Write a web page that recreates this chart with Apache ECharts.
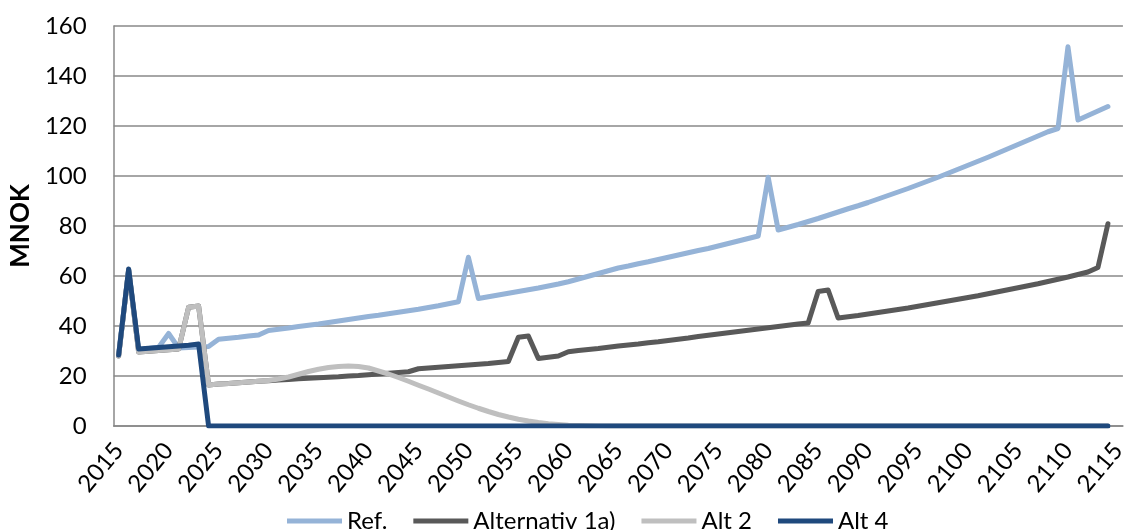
<!DOCTYPE html>
<html>
<head>
<meta charset="utf-8">
<script src="https://cdn.jsdelivr.net/npm/echarts@6/dist/echarts.min.js"></script>
<style>
html,body{margin:0;padding:0;background:#fff;}
#chart{width:1129px;height:530px;}
</style>
</head>
<body>
<div id="chart"></div>
<script>
// Categories: years 2015..2115
const years = [];
for (let y = 2015; y <= 2115; y++) years.push(String(y));

const seriesNames = ['Ref.', 'Alternativ 1a)', 'Alt 2', 'Alt 4'];
const yTicks = [0, 20, 40, 60, 80, 100, 120, 140, 160];

// values 2015..2114 (2115 empty)
const refValues = [
  28.5, 62.5, 30.5, 31.0, 31.5, 37.0, 31.2, 31.4, 31.6, 31.8,
  34.7, 35.1, 35.5, 36.0, 36.4, 38.2, 38.7, 39.2, 39.8, 40.3,
  40.8, 41.4, 42.0, 42.6, 43.2, 43.8, 44.3, 44.9, 45.5, 46.1,
  46.7, 47.4, 48.1, 48.9, 49.7, 67.5, 51.0, 51.7, 52.4, 53.1,
  53.8, 54.5, 55.2, 56.0, 56.8, 57.7, 58.8, 59.9, 61.0, 62.1,
  63.2, 64.0, 64.9, 65.7, 66.6, 67.5, 68.4, 69.3, 70.2, 71.0,
  72.0, 73.0, 74.0, 75.0, 76.0, 99.5, 78.4, 79.5, 80.6, 81.8,
  83.0, 84.3, 85.6, 86.9, 88.1, 89.4, 90.8, 92.2, 93.6, 95.0,
  96.5, 98.0, 99.5, 101.1, 102.7, 104.3, 105.9, 107.5, 109.2, 110.9,
  112.6, 114.3, 116.0, 117.7, 119.0, 151.7, 122.4, 124.2, 126.0, 127.8,
  null
];
const alt1aValues = [
  28.0, 62.5, 29.6, 29.9, 30.2, 30.5, 30.8, 47.5, 48.0, 16.4,
  16.8, 17.0, 17.3, 17.6, 17.9, 18.1, 18.4, 18.6, 18.9, 19.1,
  19.3, 19.5, 19.7, 20.0, 20.2, 20.5, 20.8, 21.1, 21.4, 21.7,
  22.9, 23.2, 23.5, 23.8, 24.1, 24.4, 24.7, 25.0, 25.4, 25.8,
  35.5, 36.0, 27.0, 27.5, 28.0, 29.7, 30.2, 30.6, 31.0, 31.5,
  32.0, 32.4, 32.8, 33.3, 33.7, 34.2, 34.7, 35.2, 35.8, 36.3,
  36.8, 37.3, 37.8, 38.3, 38.8, 39.3, 39.8, 40.3, 40.8, 41.2,
  53.8, 54.4, 43.2, 43.7, 44.2, 44.8, 45.4, 46.0, 46.6, 47.2,
  47.9, 48.6, 49.3, 50.0, 50.7, 51.4, 52.1, 52.9, 53.7, 54.5,
  55.3, 56.1, 56.9, 57.8, 58.7, 59.6, 60.6, 61.6, 63.4, 80.9,
  null
];
const alt2Values = [
  28.0, 62.5, 29.6, 29.9, 30.2, 30.5, 30.8, 47.5, 48.0, 16.4,
  16.8, 17.0, 17.3, 17.6, 17.9, 18.2, 18.8, 19.6, 20.7, 21.8,
  22.7, 23.4, 23.8, 24.0, 23.8, 23.2, 22.0, 20.8, 19.4, 17.9,
  16.3, 14.8, 13.2, 11.6, 10.0, 8.5, 7.1, 5.8, 4.6, 3.6,
  2.7, 2.0, 1.4, 0.9, 0.6, 0.35, 0.2, 0.1, 0.05, 0,
  0, 0, 0, 0, 0, 0, 0, 0, 0, 0,
  0, 0, 0, 0, 0, 0, 0, 0, 0, 0,
  0, 0, 0, 0, 0, 0, 0, 0, 0, 0,
  0, 0, 0, 0, 0, 0, 0, 0, 0, 0,
  0, 0, 0, 0, 0, 0, 0, 0, 0, 0,
  null
];
const alt4Values = [
  28.4, 62.8, 30.8, 31.1, 31.4, 31.7, 32.0, 32.3, 32.8, 0,
  0, 0, 0, 0, 0, 0, 0, 0, 0, 0,
  0, 0, 0, 0, 0, 0, 0, 0, 0, 0,
  0, 0, 0, 0, 0, 0, 0, 0, 0, 0,
  0, 0, 0, 0, 0, 0, 0, 0, 0, 0,
  0, 0, 0, 0, 0, 0, 0, 0, 0, 0,
  0, 0, 0, 0, 0, 0, 0, 0, 0, 0,
  0, 0, 0, 0, 0, 0, 0, 0, 0, 0,
  0, 0, 0, 0, 0, 0, 0, 0, 0, 0,
  0, 0, 0, 0, 0, 0, 0, 0, 0, 0,
  null
];

const colors = ['#95B3D7', '#595959', '#BFBFBF', '#1F497D'];
const FONT = 'Lato';

const chart = echarts.init(document.getElementById('chart'), null, {renderer: 'canvas'});
const mk = (name, data, color) => ({
  name, type: 'line', data, symbol: 'none', smooth: false,
  lineStyle: {color, width: 5, cap: 'round', join: 'round'},
  itemStyle: {color},
  animation: false
});

chart.setOption({
  animation: false,
  textStyle: {fontFamily: FONT},
  grid: {left: 111, right: 0, top: 26, bottom: 104, containLabel: false},
  legend: {
    data: seriesNames,
    left: 282, top: 504,
    itemWidth: 55, itemHeight: 24, itemGap: 26,
    textStyle: {fontFamily: FONT, fontSize: 24, color: '#000'},
    icon: 'path://M0,9.5 L55,9.5 L55,14.5 L0,14.5 Z'
  },
  xAxis: {
    type: 'category', data: years, boundaryGap: true,
    axisLine: {show: true, lineStyle: {color: '#888', width: 1.5}},
    axisTick: {show: false},
    axisLabel: {interval: 4, rotate: 50, margin: 20, fontFamily: FONT, fontSize: 24, color: '#000'},
    splitLine: {show: false}
  },
  yAxis: {
    type: 'value', min: 0, max: 160, interval: 20,
    name: 'MNOK', nameLocation: 'middle', nameGap: 75, nameRotate: 90,
    nameTextStyle: {fontFamily: FONT, fontSize: 26, fontWeight: 'bold', color: '#000'},
    axisLine: {show: true, lineStyle: {color: '#888', width: 1.5}},
    axisTick: {show: false},
    axisLabel: {margin: 27, fontFamily: FONT, fontSize: 24, color: '#000',
      formatter: v => yTicks.includes(v) ? String(v) : ''},
    splitLine: {show: true, lineStyle: {color: '#888', width: 1.5}}
  },
  series: [
    mk(seriesNames[0], refValues, colors[0]),
    mk(seriesNames[1], alt1aValues, colors[1]),
    mk(seriesNames[2], alt2Values, colors[2]),
    mk(seriesNames[3], alt4Values, colors[3])
  ]
});
</script>
</body>
</html>
